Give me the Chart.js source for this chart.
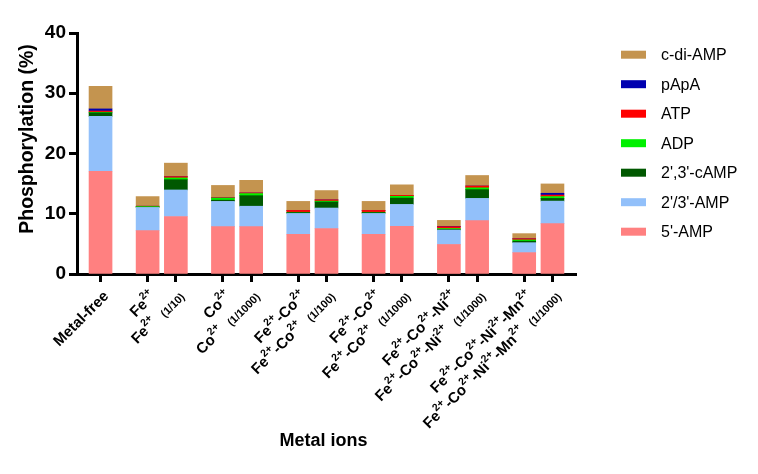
<!DOCTYPE html>
<html><head><meta charset="utf-8">
<script src="https://cdn.jsdelivr.net/npm/chart.js@4/dist/chart.umd.min.js"></script>
<style>html,body{margin:0;padding:0;background:#fff}</style>
</head><body>
<canvas id="c" width="758" height="474"></canvas>
<script>
// ---- data ----
const categories = ["Metal-free","Fe^{2+}","Fe^{2+}","Co^{2+}","Co^{2+}",
  "Fe^{2+}-Co^{2+}","Fe^{2+}-Co^{2+}","Fe^{2+}-Co^{2+}","Fe^{2+}-Co^{2+}",
  "Fe^{2+}-Co^{2+}-Ni^{2+}","Fe^{2+}-Co^{2+}-Ni^{2+}",
  "Fe^{2+}-Co^{2+}-Ni^{2+}-Mn^{2+}","Fe^{2+}-Co^{2+}-Ni^{2+}-Mn^{2+}"];
const dilutions = ["","","(1/10)","","(1/1000)","","(1/100)","","(1/1000)","","(1/1000)","","(1/1000)"];
const groupSizes = [1,2,2,2,2,2,2];

const amp5     = [17.05, 7.2, 9.55, 7.85, 7.85, 6.6, 7.55, 6.6, 7.9, 4.9, 8.85, 3.55, 8.35];
const amp23    = [9.1, 3.85, 4.4, 4.2, 3.4, 3.45, 3.4, 3.45, 3.65, 2.4, 3.7, 1.65, 3.75];
const cAMP23   = [0.6, 0.05, 1.7, 0.2, 1.75, 0.15, 1.0, 0.15, 1.05, 0.1, 1.45, 0.25, 0.45];
const adp      = [0.1, 0.1, 0.3, 0.35, 0.35, 0.05, 0.15, 0.05, 0.3, 0.15, 0.3, 0.2, 0.3];
const atp      = [0.2, 0.05, 0.2, 0.05, 0.1, 0.3, 0.2, 0.3, 0.15, 0.3, 0.3, 0.2, 0.25];
const papa     = [0.35, 0, 0, 0, 0, 0, 0, 0, 0, 0.05, 0, 0, 0.3];
const cdiAMP   = [3.75, 1.6, 2.25, 2.05, 2.1, 1.5, 1.55, 1.5, 1.75, 1.0, 1.75, 0.85, 1.55];
const yTicks = [0, 10, 20, 30, 40];
const xTitle = "Metal ions";
const yTitle = "Phosphorylation (%)";

const seriesNames = ["5'-AMP","2'/3'-AMP","2',3'-cAMP","ADP","ATP","pApA","c-di-AMP"];
const seriesData = [amp5, amp23, cAMP23, adp, atp, papa, cdiAMP];
const seriesColors = ["#FF8080","#92C0FA","#005800","#00F000","#FF0000","#0000B0","#C4944F"];

// ---- slot layout (empty category slots act as gaps) ----
const LEAD = 2, TRAIL = 2, IN_STEP = 3, GROUP_STEP = 5;
const slotOf = [];
{
  let pos = LEAD, first = true;
  groupSizes.forEach(g => {
    if (!first) pos += GROUP_STEP - IN_STEP;
    for (let k = 0; k < g; k++) { if (!(first && k === 0)) pos += IN_STEP; slotOf.push(pos); first = false; }
    first = false;
  });
}
const nSlots = slotOf[slotOf.length - 1] + TRAIL + 1;
const slotLabels = new Array(nSlots).fill("");
const isBar = new Array(nSlots).fill(false);
slotOf.forEach((s, i) => { slotLabels[s] = categories[i] + (dilutions[i] ? " " + dilutions[i] : ""); isBar[s] = true; });
function spread(arr) { const out = new Array(nSlots).fill(null); slotOf.forEach((s, i) => out[s] = arr[i]); return out; }

const FAM = '"Liberation Sans", Arial, Helvetica, sans-serif';

function parseRich(str) {
  const segs = []; const re = /\^\{([^}]*)\}/g; let last = 0, m;
  while ((m = re.exec(str))) {
    if (m.index > last) segs.push({ t: str.slice(last, m.index), kind: 'main' });
    segs.push({ t: m[1], kind: 'sup' });
    last = re.lastIndex;
  }
  if (last < str.length) segs.push({ t: str.slice(last), kind: 'main' });
  return segs;
}

const decor = {
  id: 'decor',
  afterDraw(chart) {
    const ctx = chart.ctx, xs = chart.scales.x, ca = chart.chartArea;
    const fonts = { main: 'bold 15px ' + FAM, sup: 'bold 10.5px ' + FAM, dil: 'bold 11px ' + FAM, gap: 'bold 11px ' + FAM };
    const yoff = { main: 0, sup: -6, dil: 2, gap: 0 };
    ctx.save();
    ctx.fillStyle = '#000';
    ctx.textBaseline = 'middle';
    ctx.textAlign = 'left';
    slotOf.forEach((s, i) => {
      const x = xs.getPixelForValue(s);
      const pieces = parseRich(categories[i]);
      if (dilutions[i]) { pieces.push({ t: '   ', kind: 'gap' }); pieces.push({ t: dilutions[i], kind: 'dil' }); }
      let total = 0;
      pieces.forEach(p => { ctx.font = fonts[p.kind]; p.w = ctx.measureText(p.t).width; total += p.w; });
      ctx.save();
      ctx.translate(x + 6, ca.bottom + 20);
      ctx.rotate(-Math.PI / 4);
      let cx = -total;
      pieces.forEach(p => { ctx.font = fonts[p.kind]; if (p.kind !== 'gap') ctx.fillText(p.t, cx, yoff[p.kind]); cx += p.w; });
      ctx.restore();
    });
    // axis titles
    ctx.textAlign = 'center';
    ctx.font = 'bold 18px ' + FAM;
    ctx.fillText(xTitle, (ca.left + ca.right) / 2 - 3, 441);
    ctx.save();
    ctx.translate(28, 139);
    ctx.rotate(-Math.PI / 2);
    ctx.font = 'bold 19.5px ' + FAM;
    ctx.fillText(yTitle, 0, 0);
    ctx.restore();
    // legend
    ctx.textAlign = 'left';
    ctx.font = '16px ' + FAM;
    const ds = chart.data.datasets;
    for (let k = 0; k < ds.length; k++) {
      const d = ds[ds.length - 1 - k];
      const cy = 54.7 + k * 29.5;
      ctx.fillStyle = d.backgroundColor;
      ctx.fillRect(621, cy - 4, 25, 8);
      ctx.fillStyle = '#000';
      ctx.fillText(d.label, 661, cy + 1);
    }
    ctx.restore();
  }
};

new Chart(document.getElementById('c'), {
  type: 'bar',
  data: {
    labels: slotLabels,
    datasets: seriesNames.map((n, i) => ({
      label: n, data: spread(seriesData[i]), backgroundColor: seriesColors[i],
      borderWidth: 0, barThickness: 23, skipNull: true
    }))
  },
  options: {
    responsive: false, animation: false, devicePixelRatio: 1,
    layout: { padding: { left: 0, right: 182, top: 33, bottom: 0 } },
    plugins: { legend: { display: false }, tooltip: { enabled: false } },
    scales: {
      x: {
        type: 'category', stacked: true, offset: true,
        grid: { drawOnChartArea: false, offset: false, drawTicks: true, tickLength: 8, tickWidth: 3,
                tickColor: c => isBar[c.index] ? '#000' : 'rgba(0,0,0,0)' },
        border: { display: true, color: '#000', width: 3 },
        ticks: { display: false, autoSkip: false },
        afterFit: s => { s.height = 200; }
      },
      y: {
        stacked: true, min: yTicks[0], max: yTicks[yTicks.length - 1],
        afterBuildTicks: s => { s.ticks = yTicks.map(v => ({ value: v })); },
        ticks: { color: '#000', padding: 3, font: { family: FAM, weight: 'bold', size: 19 } },
        grid: { drawOnChartArea: false, tickLength: 8, tickWidth: 3, tickColor: '#000' },
        border: { color: '#000', width: 3 },
        afterFit: s => { s.width = 77; }
      }
    }
  },
  plugins: [decor]
});
</script>
</body></html>
